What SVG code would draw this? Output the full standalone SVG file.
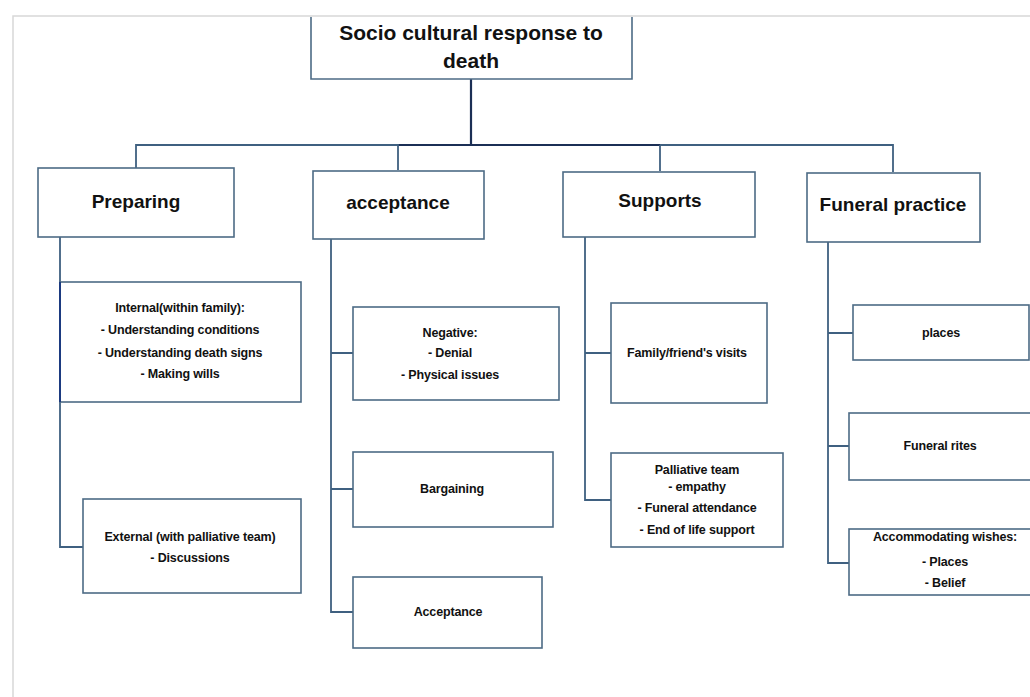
<svg xmlns="http://www.w3.org/2000/svg" width="1030" height="697" viewBox="0 0 1030 697">
<style>
.box{fill:#fff;stroke:#4d6b85;stroke-width:1.6}
.ln{fill:none;stroke:#3f6080;stroke-width:1.8}
.dk{fill:none;stroke:#1b2f55;stroke-width:2.2}
text{font-family:"Liberation Sans",Arial,sans-serif;font-weight:bold;fill:#111;text-anchor:middle}
.h{font-size:19px}
.r{font-size:21px}
.s{font-size:12.5px;letter-spacing:-0.15px}
</style>
<rect width="1030" height="697" fill="#fff"/>
<path d="M13 697 V16 H1030" fill="none" stroke="#d8d8d8" stroke-width="1.5"/>
<g id="connectors">
<path class="dk" d="M471 79 V145 H660"/>
<path class="dk" d="M398 145 H471"/>
<path class="ln" d="M136 169 V145 H398 V170"/>
<path class="ln" d="M660 145 H893 V172"/>
<path class="ln" d="M660 145 V171"/>
<path class="ln" d="M60 237 V547 H83"/>
<path class="ln" d="M331 239 V612 H353 M331 353 H353 M331 489 H353"/>
<path class="ln" d="M585 237 V500 H611 M585 353 H611"/>
<path class="ln" d="M828 242 V563 H849 M828 333 H853 M828 446 H849"/>
</g>
<g id="root"><path class="box" d="M311 17 V79 H632 V17"/><text class="r" x="471" y="40">Socio cultural response to</text><text class="r" x="471" y="68">death</text></g>
<g id="preparing"><rect class="box" x="38" y="168" width="196" height="69"/><text class="h" x="136" y="208">Preparing</text></g>
<g id="acceptance"><rect class="box" x="313" y="171" width="171" height="68"/><text class="h" x="398" y="209">acceptance</text></g>
<g id="supports"><rect class="box" x="563" y="172" width="192" height="65"/><text class="h" x="660" y="207">Supports</text></g>
<g id="funeral"><rect class="box" x="807" y="173" width="173" height="69"/><text class="h" x="893" y="211">Funeral practice</text></g>
<g id="internal"><rect class="box" x="60" y="282" width="241" height="120"/><path d="M60 282 V402" stroke="#1b3a80" stroke-width="2"/>
<text class="s" x="180" y="312">Internal(within family):</text>
<text class="s" x="180" y="334">- Understanding conditions</text>
<text class="s" x="180" y="357">- Understanding death signs</text>
<text class="s" x="180" y="378">- Making wills</text></g>
<g id="external"><rect class="box" x="83" y="499" width="218" height="94"/>
<text class="s" x="190" y="541">External (with palliative team)</text>
<text class="s" x="190" y="562">- Discussions</text></g>
<g id="negative"><rect class="box" x="353" y="307" width="206" height="93"/>
<text class="s" x="450" y="337">Negative:</text>
<text class="s" x="450" y="357">- Denial</text>
<text class="s" x="450" y="379">- Physical issues</text></g>
<g id="bargaining"><rect class="box" x="353" y="452" width="200" height="75"/><text class="s" x="452" y="493">Bargaining</text></g>
<g id="acceptance2"><rect class="box" x="353" y="577" width="189" height="71"/><text class="s" x="448" y="616">Acceptance</text></g>
<g id="family"><rect class="box" x="611" y="303" width="156" height="100"/><text class="s" x="687" y="357">Family/friend's visits</text></g>
<g id="palliative"><rect class="box" x="611" y="453" width="172" height="94"/>
<text class="s" x="697" y="474">Palliative team</text>
<text class="s" x="697" y="491">- empathy</text>
<text class="s" x="697" y="512">- Funeral attendance</text>
<text class="s" x="697" y="534">- End of life support</text></g>
<g id="places"><rect class="box" x="853" y="305" width="176" height="55"/><text class="s" x="941" y="337">places</text></g>
<g id="rites"><rect class="box" x="849" y="413" width="190" height="67"/><text class="s" x="940" y="450">Funeral rites</text></g>
<g id="wishes"><rect class="box" x="849" y="529" width="190" height="66"/>
<text class="s" x="945" y="541">Accommodating wishes:</text>
<text class="s" x="945" y="566">- Places</text>
<text class="s" x="945" y="587">- Belief</text></g>
</svg>
